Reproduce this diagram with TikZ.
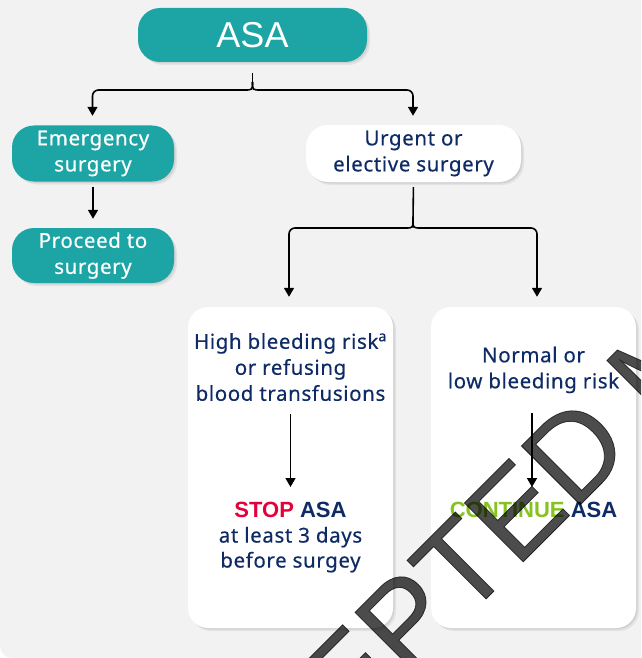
\documentclass[tikz,border=0pt]{standalone}
\usepackage{fontspec}
\setmainfont{Noto Sans}
\newfontfamily\bodyfont[LetterSpace=3,FakeBold=0.4]{Noto Sans}
\newfontfamily\headfont{Liberation Sans}
\newfontfamily\stampfont[FakeBold=0.6]{Liberation Sans}
\usetikzlibrary{arrows.meta,shadows}

\definecolor{tealbox}{HTML}{1DA5A6}
\definecolor{navy}{HTML}{0E2B66}
\definecolor{stopred}{HTML}{E4003A}
\definecolor{gogreen}{HTML}{86C320}
\definecolor{panel}{HTML}{F2F2F2}

\begin{document}
\begin{tikzpicture}[x=1pt,y=-1pt,
  softshadow/.style={
    general shadow={fill=black,opacity=.06,shadow xshift=3pt,shadow yshift=-3pt},
    general shadow={fill=black,opacity=.07,shadow xshift=1.5pt,shadow yshift=-1.5pt}},
  pill/.style={fill=tealbox,rounded corners=22pt,softshadow,inner sep=0pt,
    text=white,align=center,font=\bodyfont\fontsize{20.5}{26}\selectfont},
  card/.style={fill=white,rounded corners=20pt,softshadow,inner sep=0pt},
  txt/.style={inner sep=0pt,align=center,text=navy,
    font=\bodyfont\fontsize{20.5}{26}\selectfont},
  verdict/.style={inner sep=0pt,align=center,text=navy,
    font=\bodyfont\fontsize{20.5}{25}\selectfont},
  link/.style={line width=1.6pt,draw=black},
  arr/.style={link,-{Triangle[width=10pt,length=9pt]}},
  stamp/.style={inner sep=0pt,text=black,text opacity=.7,
    font=\stampfont\fontsize{121}{121}\selectfont}]

\useasboundingbox (0,0) rectangle (641,658);
\clip (0,0) rectangle (641,658);

% panel
\fill[white] (0,0) rectangle (641,658);
\fill[panel,rounded corners=12pt] (0,-40) rectangle (690,658);

% boxes
\node[pill,minimum width=229pt,minimum height=54pt,
      font=\headfont\fontsize{36}{36}\selectfont] (asa) at (252.5,35) {ASA};
\node[pill,minimum width=162pt,minimum height=56pt] (emerg) at (93,153.5) {Emergency\\surgery};
\node[pill,minimum width=162pt,minimum height=55pt] (proceed) at (93,255.5) {Proceed to\\surgery};
\node[card,rounded corners=22pt,minimum width=215pt,minimum height=57pt,
      text=navy,align=center,font=\bodyfont\fontsize{20.5}{26}\selectfont]
      (urgent) at (413.5,153.5) {Urgent or\\elective surgery};
\node[card,minimum width=205pt,minimum height=321pt] (high) at (290.5,467.5) {};
\node[card,minimum width=205pt,minimum height=321pt] (normal) at (533.5,467.5) {};

% card texts
\node[txt,anchor=north] (hightxt) at (290.5,333) {High bleeding risk\textsuperscript{a}\\or refusing\\blood transfusions};
\node[txt,anchor=north] (normtxt) at (533.5,346.5) {Normal or\\low bleeding risk};
\node[verdict,anchor=north] (stoptxt) at (290.5,502)
  {{\headfont\bfseries\fontsize{22}{25}\selectfont\textcolor{stopred}{STOP} ASA}\\at least 3 days\\before surgey};
\node[verdict,anchor=north] (conttxt) at (533.5,502)
  {{\headfont\bfseries\fontsize{22}{25}\selectfont\textcolor{gogreen}{CONTINUE} ASA}};

% first split
\coordinate (knotA) at (252.5,82);
\draw[link,shorten <=11pt] (asa.south) -- (knotA);
\draw[arr,shorten >=9.5pt] (knotA) .. controls (252.5,90) .. (244.5,90)
  [rounded corners=6pt] -| ([xshift=-0.5pt]emerg.north);
\draw[arr,shorten >=9pt] (knotA) .. controls (252.5,90) .. (260.5,90)
  [rounded corners=6pt] -| ([xshift=-0.5pt]urgent.north);
\draw[arr,shorten <=5pt,shorten >=9pt] (emerg) -- (proceed);

% second split
\coordinate (knotB) at (413,220);
\draw[link,shorten <=5pt] (urgent.south) -- (knotB);
\draw[arr,shorten >=10pt] (knotB) .. controls (413,228) .. (405,228)
  [rounded corners=6pt] -| ([xshift=-1.5pt]high.north);
\draw[arr,shorten >=10pt] (knotB) .. controls (413,228) .. (421,228)
  [rounded corners=6pt] -| ([xshift=3.5pt]normal.north);

% inside the cards
\draw[arr,shorten <=13pt,shorten >=15pt] (hightxt.south) -- (stoptxt.north);
\draw[arr,shorten <=20pt,shorten >=15pt] ([xshift=-1.5pt]normtxt.south) -- ([xshift=-1.5pt]conttxt.north);

% stamp across the sheet
\node[stamp,rotate=45,anchor=base west] (mark) at (169,916) {ACCEPTED MANUSCRIPT};
\end{tikzpicture}
\end{document}
